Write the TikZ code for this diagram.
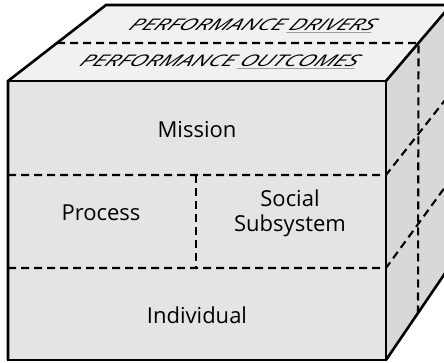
\documentclass[tikz,border=0pt]{standalone}
\usepackage{fontspec}
\setmainfont{Open Sans}
\usetikzlibrary{calc}

\definecolor{frontgray}{RGB}{228,228,228}
\definecolor{topgray}{RGB}{241,241,241}
\definecolor{sidegray}{RGB}{216,216,216}

\tikzset{
  edge/.style={line width=2.6pt,line join=miter},
  split/.style={line width=2.1pt,dash pattern=on 8pt off 5pt},
  label/.style={font=\fontsize{22}{25}\selectfont,align=center},
  toplabel/.style={font=\fontsize{16}{18}\itshape,xscale=1.45,xslant=0.45}
}

\begin{document}
\begin{tikzpicture}[x=1pt,y=-1pt]
\useasboundingbox (0,0) rectangle (444,363);
\clip (0,0) rectangle (444,363);

% corners of the box
\coordinate (ftl) at (8,81);
\coordinate (ftr) at (386,81);
\coordinate (fbr) at (386,360);
\coordinate (fbl) at (8,360);
\coordinate (btl) at (106,5);
\coordinate (btr) at (451,5);
\coordinate (bbr) at (450,266);

% faces
\fill[topgray] (ftl) -- (btl) -- (btr) -- (ftr) -- cycle;
\fill[sidegray] (ftr) -- (btr) -- (bbr) -- (fbr) -- cycle;
\fill[frontgray] (ftl) -- (ftr) -- (fbr) -- (fbl) -- cycle;

% dividing lines
\coordinate (ml) at ($(ftl)!0.5!(btl)$);
\coordinate (mr) at ($(ftr)!0.5!(btr)$);
\coordinate (mb) at ($(fbr)!0.5!(bbr)$);
\coordinate (r1) at (8,175);
\coordinate (r1e) at (386,175);
\coordinate (r2) at (8,268);
\coordinate (r2e) at (386,268);
\coordinate (c1) at (196,175);
\coordinate (c2) at (196,268);
\coordinate (s1) at ($(btr)!0.337!(bbr)$);
\coordinate (s2) at ($(btr)!0.67!(bbr)$);

\draw[split] (ml) -- (mr) -- (mb);
\draw[split] (r1) -- (r1e) -- (s1);
\draw[split] (r2) -- (r2e) -- (s2);
\draw[split] (c1) -- (c2);

% outline
\draw[edge] (fbl) -- (ftl) -- (btl) -- (btr);
\draw[edge] (ftl) -- (ftr) -- (fbr) -- (fbl) -- cycle;
\draw[edge] (ftr) -- (btr);
\draw[edge] (fbr) -- (bbr);

% labels
\node[label] (mission) at (197,130) {Mission};
\node[label] (process) at (101,213) {Process};
\node[label] (social) at (290,213) {Social\\Subsystem};
\node[label] (individual) at (197,315) {Individual};
\node[toplabel] (drivers) at (253,26) {PERFORMANCE \underline{DRIVERS}};
\node[toplabel] (outcomes) at (220,62) {PERFORMANCE \underline{OUTCOMES}};
\end{tikzpicture}
\end{document}
